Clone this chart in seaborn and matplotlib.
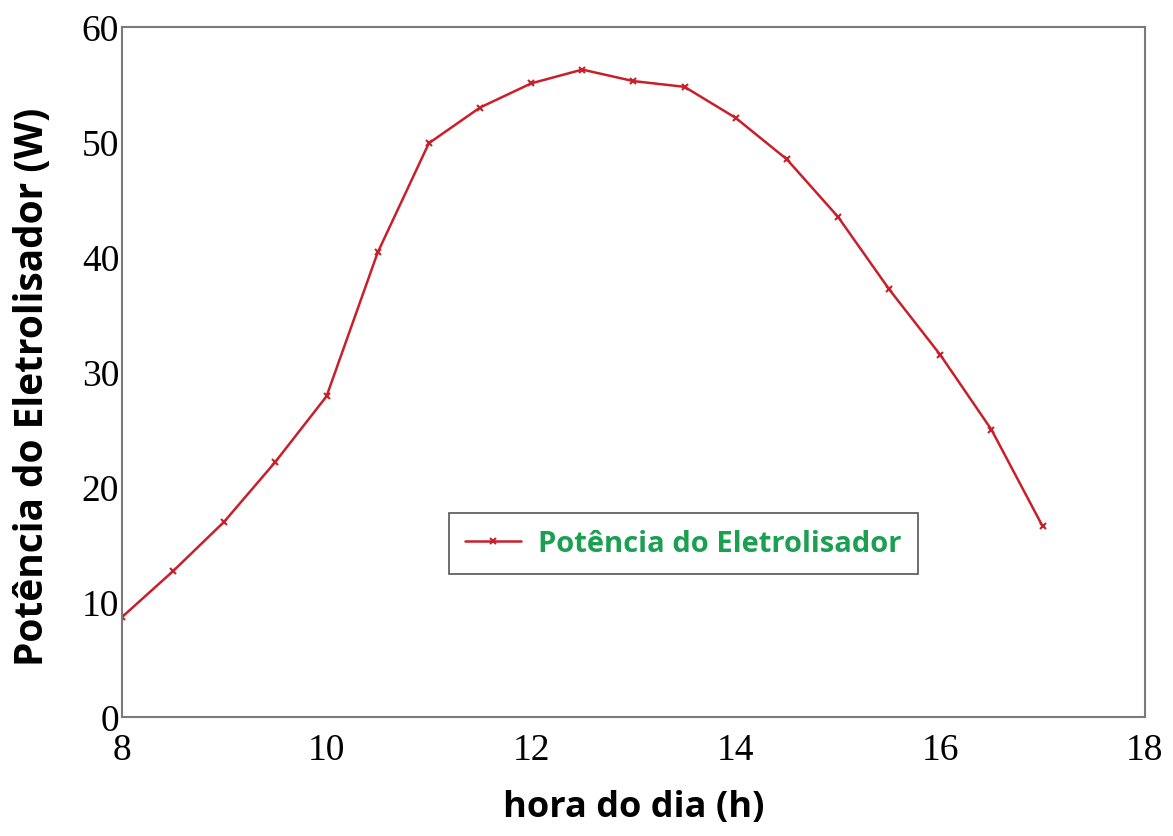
import matplotlib
matplotlib.use("Agg")
import matplotlib.pyplot as plt
import seaborn as sns
import pandas as pd

hora = [8, 8.5, 9, 9.5, 10, 10.5, 11, 11.5, 12, 12.5, 13, 13.5, 14, 14.5, 15, 15.5, 16, 16.5, 17]
potencia = [8.7, 12.7, 17.0, 22.2, 27.9, 40.4, 49.9, 53.0, 55.1, 56.3, 55.3, 54.8, 52.1, 48.5, 43.5, 37.2, 31.5, 25.0, 16.6]
xticks = [8, 10, 12, 14, 16, 18]
yticks = [0, 10, 20, 30, 40, 50, 60]

df = pd.DataFrame({"hora": hora, "pot": potencia})

sns.set_style("white")
fig = plt.figure(figsize=(11.73, 8.37), dpi=100)
ax = fig.add_axes([0.104, 0.142, 0.872, 0.8245])

red = "#c8202a"
sns.lineplot(data=df, x="hora", y="pot", ax=ax, color=red, linewidth=1.8,
             marker="x", markersize=5, markeredgewidth=1.5, markeredgecolor=red,
             label="Potência do Eletrolisador")

ax.set_xlim(8, 18)
ax.set_ylim(0, 60)
ax.set_xticks(xticks)
ax.set_yticks(yticks)
ax.set_xticklabels([str(t) for t in xticks], fontfamily="Liberation Serif", fontsize=27, color="black")
ax.set_yticklabels([str(t) for t in yticks], fontfamily="Liberation Serif", fontsize=27, color="black")
ax.tick_params(axis="x", direction="in", length=6, color="#4a7a6a", pad=11)
ax.tick_params(axis="y", direction="in", length=6, color="#4a7a6a", pad=2)
for s in ax.spines.values():
    s.set_color("#7a7a7a")
    s.set_linewidth(1.5)

ax.set_xlabel("hora do dia (h)", fontfamily="Open Sans", fontweight="bold", fontsize=26,
              labelpad=16, color="black")
ax.set_ylabel("Potência do Eletrolisador (W)", fontfamily="Open Sans", fontweight="bold", fontsize=28,
              color="black")
ax.yaxis.set_label_coords(-0.068, 0.48)

leg = ax.legend(loc="lower left", bbox_to_anchor=(0.32, 0.207), fancybox=False,
                prop={"family": "Open Sans", "weight": "bold", "size": 21},
                handlelength=1.9, handletextpad=0.6, borderpad=0.55, framealpha=1,
                borderaxespad=0)
leg.get_frame().set_edgecolor("#555555")
leg.get_frame().set_linewidth(1.2)
for t in leg.get_texts():
    t.set_color("#1aa050")

fig.savefig("out.png", dpi=100)
